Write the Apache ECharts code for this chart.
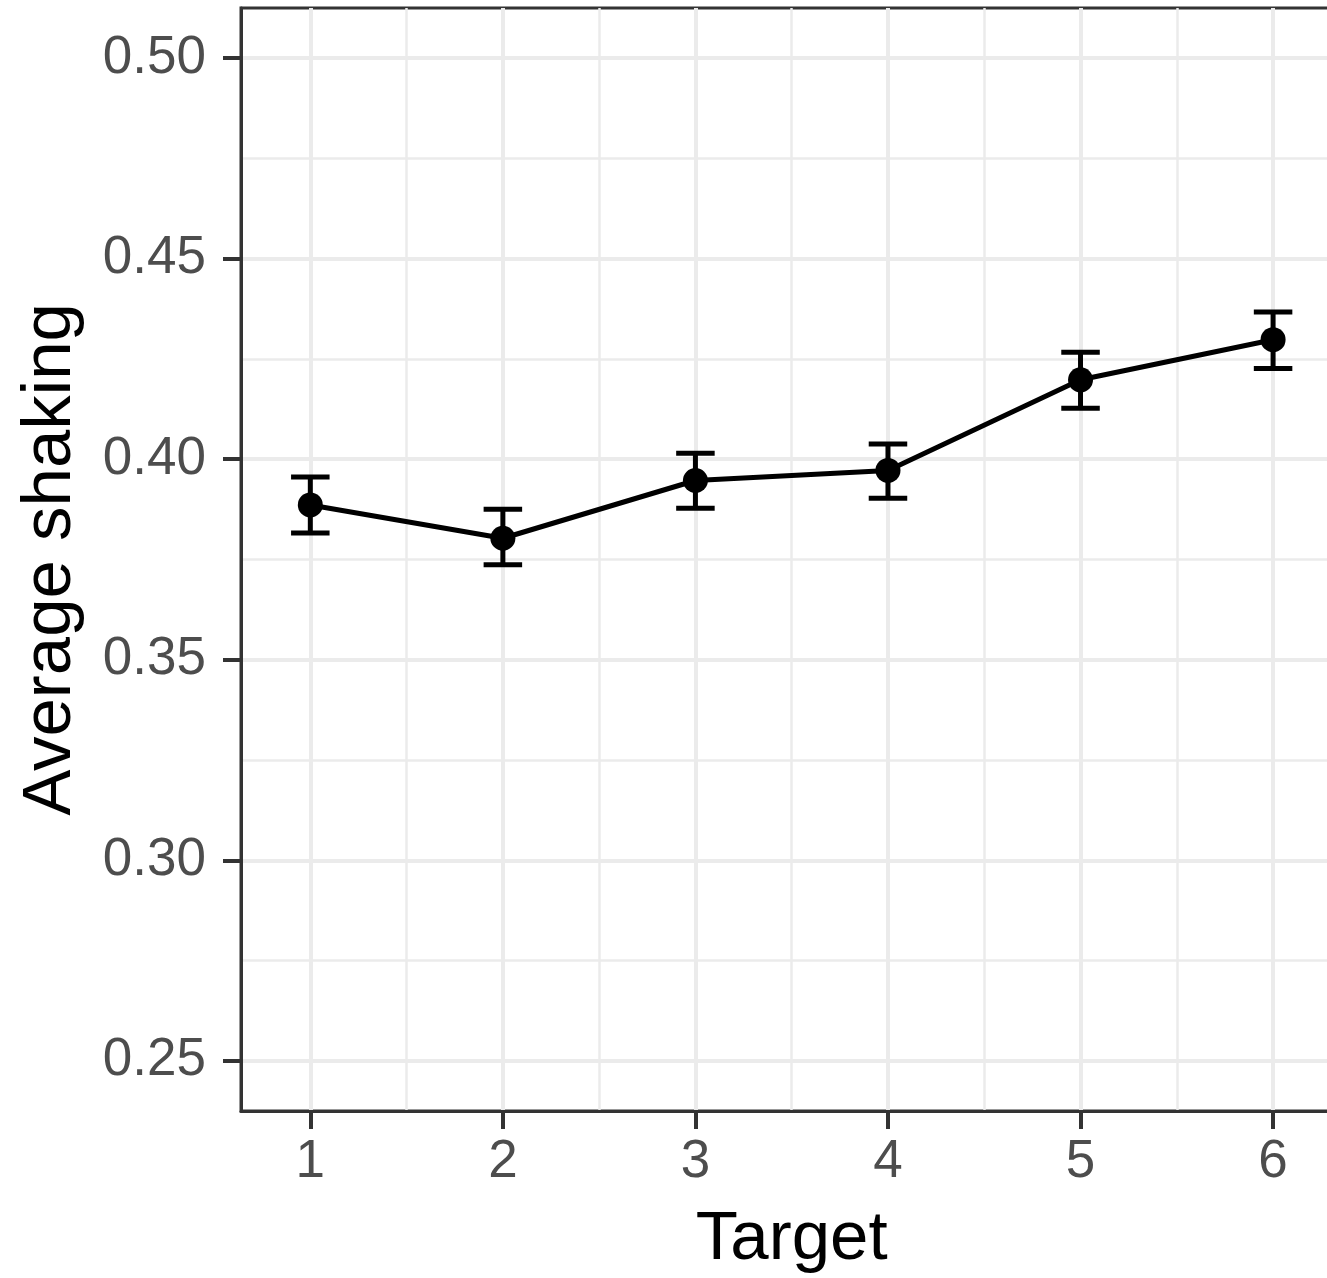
<!DOCTYPE html>
<html><head><meta charset="utf-8">
<script src="https://cdn.jsdelivr.net/npm/echarts@6/dist/echarts.min.js"></script>
<style>html,body{margin:0;padding:0;background:#fff}#c{width:1327px;height:1278px}</style>
</head><body><div id="c"></div>
<script>
const targets = [1, 2, 3, 4, 5, 6];
const meanShaking = [0.3886, 0.3803, 0.3947, 0.3972, 0.4198, 0.4298];
const lowerCI = [0.3816, 0.3737, 0.3878, 0.3903, 0.4127, 0.4226];
const upperCI = [0.3956, 0.3875, 0.4015, 0.4038, 0.4267, 0.4367];
const xTickLabels = ['1', '2', '3', '4', '5', '6'];
const yTicks = [0.25, 0.30, 0.35, 0.40, 0.45, 0.50];
const yTickLabels = ['0.25', '0.30', '0.35', '0.40', '0.45', '0.50'];
const xMinorGrid = [1.5, 2.5, 3.5, 4.5, 5.5];
const yMinorGrid = [0.275, 0.325, 0.375, 0.425, 0.475];

const FONT = '"Liberation Sans", Arial, sans-serif';
const X_MIN = 0.64, X_MAX = 6.36, Y_MIN = 0.2375, Y_MAX = 0.5125;
const CAP = 0.1;

const chart = echarts.init(document.getElementById('c'), null, {renderer: 'canvas'});

const hiddenAxisBits = {
  axisLine: {show: false}, axisLabel: {show: false}, axisTick: {show: false}
};

const option = {
  animation: false,
  backgroundColor: '#ffffff',
  grid: {
    left: 241, top: 8, width: 1101.4, height: 1103,
    containLabel: false, outerBoundsMode: 'none',
    show: true, borderColor: '#333333', borderWidth: 3, backgroundColor: 'transparent'
  },
  xAxis: [
    {
      type: 'value', min: X_MIN, max: X_MAX,
      name: 'Target', nameLocation: 'middle', nameGap: 94,
      nameTextStyle: {fontSize: 69, color: '#000000', fontFamily: FONT},
      axisLine: {show: true, onZero: false, lineStyle: {color: '#333333', width: 3}},
      axisTick: {show: true, length: 18, lineStyle: {color: '#333333', width: 4}, customValues: targets},
      axisLabel: {
        show: true, margin: 25, fontSize: 53, color: '#4D4D4D', fontFamily: FONT,
        customValues: targets,
        formatter: v => xTickLabels[targets.indexOf(Math.round(v))] || ''
      },
      splitLine: {show: true, lineStyle: {color: '#EBEBEB', width: 4}}
    },
    Object.assign({
      type: 'value', min: X_MIN, max: X_MAX, position: 'bottom',
      splitLine: {show: true, lineStyle: {color: '#EBEBEB', width: 2.5}}
    }, hiddenAxisBits, {axisTick: {show: false, customValues: xMinorGrid}})
  ],
  yAxis: [
    {
      type: 'value', min: Y_MIN, max: Y_MAX,
      name: 'Average shaking', nameLocation: 'middle', nameGap: 156, nameRotate: 90,
      nameTextStyle: {fontSize: 69, color: '#000000', fontFamily: FONT},
      axisLine: {show: true, onZero: false, lineStyle: {color: '#333333', width: 3}},
      axisTick: {show: true, length: 18, lineStyle: {color: '#333333', width: 4}, customValues: yTicks},
      axisLabel: {
        show: true, margin: 35, fontSize: 53, color: '#4D4D4D', fontFamily: FONT,
        customValues: yTicks,
        formatter: v => {
          const i = yTicks.findIndex(t => Math.abs(t - v) < 1e-6);
          return i >= 0 ? yTickLabels[i] : '';
        }
      },
      splitLine: {show: true, lineStyle: {color: '#EBEBEB', width: 4}}
    },
    Object.assign({
      type: 'value', min: Y_MIN, max: Y_MAX, position: 'left',
      splitLine: {show: true, lineStyle: {color: '#EBEBEB', width: 2.5}}
    }, hiddenAxisBits, {axisTick: {show: false, customValues: yMinorGrid}})
  ],
  series: [
    {
      type: 'custom',
      xAxisIndex: 0, yAxisIndex: 0,
      data: targets.map((t, i) => [t, lowerCI[i], upperCI[i]]),
      renderItem: function (params, api) {
        const x = api.value(0), lo = api.value(1), hi = api.value(2);
        const pLo = api.coord([x, lo]);
        const pHi = api.coord([x, hi]);
        const pLoL = api.coord([x - CAP, lo]), pLoR = api.coord([x + CAP, lo]);
        const pHiL = api.coord([x - CAP, hi]), pHiR = api.coord([x + CAP, hi]);
        const style = {stroke: '#000000', lineWidth: 5, fill: null};
        return {
          type: 'group',
          children: [
            {type: 'line', shape: {x1: pLo[0], y1: pLo[1], x2: pHi[0], y2: pHi[1]}, style: style},
            {type: 'line', shape: {x1: pLoL[0], y1: pLoL[1], x2: pLoR[0], y2: pLoR[1]}, style: style},
            {type: 'line', shape: {x1: pHiL[0], y1: pHiL[1], x2: pHiR[0], y2: pHiR[1]}, style: style}
          ]
        };
      },
      z: 3
    },
    {
      type: 'line',
      xAxisIndex: 0, yAxisIndex: 0,
      data: targets.map((t, i) => [t, meanShaking[i]]),
      symbol: 'circle', symbolSize: 25,
      itemStyle: {color: '#000000'},
      lineStyle: {color: '#000000', width: 5},
      z: 4
    }
  ]
};
chart.setOption(option);
</script>
</body></html>
